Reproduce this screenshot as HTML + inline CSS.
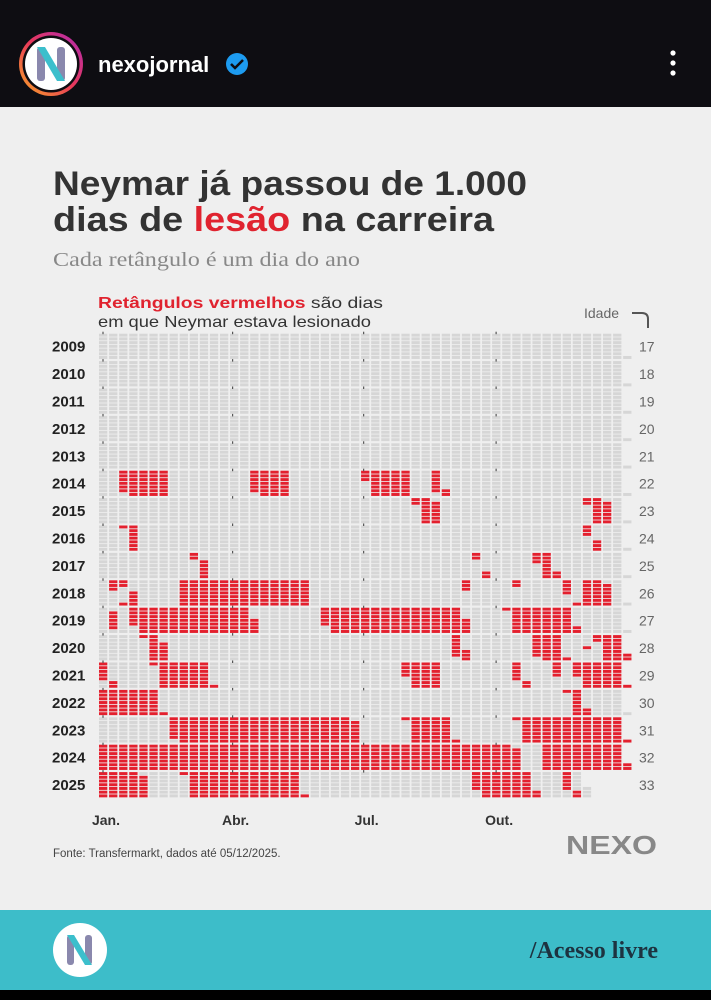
<!DOCTYPE html>
<html><head><meta charset="utf-8">
<style>
body{margin:0;width:711px;height:1000px;overflow:hidden;background:#000;font-family:"Liberation Sans",sans-serif}
#top{position:absolute;left:0;top:0;width:711px;height:107px;background:#0e0d12}
#card{position:absolute;left:0;top:107px;width:711px;height:803px;background:#efefef}
#foot{position:absolute;left:0;top:910px;width:711px;height:80px;background:#3dbdc9}
</style></head><body>
<div id="top">
 <svg width="711" height="107">
  <defs><linearGradient id="rg" x1="0" y1="1" x2="1" y2="0"><stop offset="0" stop-color="#f9a825"/><stop offset="0.5" stop-color="#e8385a"/><stop offset="1" stop-color="#b02ab5"/></linearGradient></defs>
  <g>
   <circle cx="51" cy="64" r="32" fill="url(#rg)"/><circle cx="51" cy="64" r="28.5" fill="#0e0d12"/><circle cx="51" cy="64" r="26" fill="#fff"/>
   <rect x="37" y="47" width="8" height="34" rx="3" fill="#8a88ad"/><rect x="57" y="47" width="8" height="34" rx="3" fill="#8a88ad"/>
   <polygon points="37,47 45,47 65,81 57,81" fill="#3cbfcc"/>
  </g>
  <text x="98" y="72" fill="#fff" font-size="22" font-weight="bold">nexojornal</text>
  <g><circle cx="237" cy="64" r="11" fill="#1d9bf0"/><path d="M231 64 l4 4 l8 -8" stroke="#0e0d12" stroke-width="2.5" fill="none"/></g>
  <g fill="#fff"><circle cx="673" cy="53" r="2.6"/><circle cx="673" cy="63" r="2.6"/><circle cx="673" cy="73" r="2.6"/></g>
 </svg>
</div>
<div id="card">
 <svg id="chart" width="711" height="803" viewBox="0 107 711 803">
  <text x="53" y="195" font-size="34" font-weight="bold" fill="#333" textLength="474" lengthAdjust="spacingAndGlyphs">Neymar já passou de 1.000</text>
  <text x="53" y="231" font-size="34" font-weight="bold" fill="#333" textLength="441" lengthAdjust="spacingAndGlyphs">dias de <tspan fill="#e0232f">lesão</tspan> na carreira</text>
  <text x="53" y="266" font-size="20" fill="#888" font-family="Liberation Serif,serif" textLength="307" lengthAdjust="spacingAndGlyphs">Cada retângulo é um dia do ano</text>
  <text x="98" y="308" font-size="16" fill="#333" textLength="285" lengthAdjust="spacingAndGlyphs"><tspan fill="#e0232f" font-weight="bold">Retângulos vermelhos</tspan> são dias</text>
  <text x="98" y="327" font-size="16" fill="#333" textLength="273" lengthAdjust="spacingAndGlyphs">em que Neymar estava lesionado</text>
  <text x="584" y="318" font-size="14" fill="#666">Idade</text>
  <path d="M632 313 h10 q6 0 6 6 v9" stroke="#555" stroke-width="2" fill="none"/>
  <g id="grid"></g>
  <text x="53" y="857" font-size="11.5" fill="#444">Fonte: Transfermarkt, dados até 05/12/2025.</text>
  <text x="566" y="854" font-size="26" font-weight="bold" fill="#888" textLength="91" lengthAdjust="spacingAndGlyphs">NEXO</text>
 </svg>
</div>
<div id="foot">
 <svg width="711" height="80">
  <g>
   <circle cx="80" cy="40" r="27" fill="#fff"/>
   <rect x="67" y="25" width="7" height="30" rx="3" fill="#8a88ad"/><rect x="85" y="25" width="7" height="30" rx="3" fill="#8a88ad"/>
   <polygon points="67,25 74,25 92,55 85,55" fill="#3cbfcc"/>
  </g>
  <text x="658" y="48" text-anchor="end" font-size="24" font-weight="bold" fill="#1d3340" font-family="Liberation Serif,serif">/Acesso livre</text>
 </svg>
</div>
<script>
const years=[2009,2010,2011,2012,2013,2014,2015,2016,2017,2018,2019,2020,2021,2022,2023,2024,2025];
const ages=[17,18,19,20,21,22,23,24,25,26,27,28,29,30,31,32,33];
const injuries=[[],[],[],[],[],
[[15,48],[106,132],[186,216],[232,239]],
[[222,236],[341,355]],
[[20,27],[340,345]],
[[68,74],[264,267],[305,316]],
[[11,14],[19,24],[56,146],[256,258],[292,293],[325,329],[336,355]],
[[8,12],[23,108],[156,255],[286,330]],
[[34,46],[246,254],[302,322],[339,339],[348,365]],
[[2,8],[41,77],[213,237],[289,295],[318,321],[332,364]],
[[0,42],[328,337]],
[[50,180],[216,245],[293,364]],
[[0,292],[308,365]],
[[0,33],[62,140],[261,302],[324,330]]];
const lastDay=[364,364,364,364,364,364,364,364,364,364,364,365,364,364,364,365,338];
const monthLabels=["Jan.","Abr.","Jul.","Out."];
const monthDays=[0,90,181,273];
const NS="http://www.w3.org/2000/svg";
const X0=99,PITCH=10.08,CW=8.3,Y0=333.7,RP=27.4,SUB=3.72;
const xOf=d=>X0+Math.floor(d/7)*PITCH;
const xTick=d=>X0+d/7*PITCH+4;
const yOf=(yi,d)=>Y0+yi*RP+(6-d%7)*SUB;
const g=document.getElementById('grid');
function mk(t,a){const e=document.createElementNS(NS,t);for(const k in a)e.setAttribute(k,a[k]);g.appendChild(e);return e;}
years.forEach((yr,yi)=>{
  const lab=mk('text',{x:52,y:Y0+yi*RP+18,'font-size':15,'font-weight':'bold',fill:'#222'});
  lab.textContent=yr;
  
  
  const ag=mk('text',{x:639,y:Y0+yi*RP+18,'font-size':14,fill:'#666'});
  ag.textContent=ages[yi];
  
  
  const inj=new Set();
  injuries[yi].forEach(r=>{for(let d=r[0];d<=r[1];d++)inj.add(d);});
  for(let d=0;d<=lastDay[yi];d++){
    const c=mk('rect',{x:xOf(d),y:yOf(yi,d),width:CW,height:SUB-0.8,fill:inj.has(d)?'#e3202e':'#d6d6d6'});
    
    
  }
  monthDays.forEach(md=>{
    const t=mk('rect',{x:xTick(md)-0.6,y:Y0+yi*RP-2,width:1.2,height:2.5,fill:'#555'});
    
    
  });
});
monthLabels.forEach((m,i)=>{
  const t=mk('text',{x:xTick(monthDays[i])+3,y:825,'font-size':14,'font-weight':'bold',fill:'#333','text-anchor':'middle'});
  t.textContent=m;
  
  
});
</script>
</body></html>
